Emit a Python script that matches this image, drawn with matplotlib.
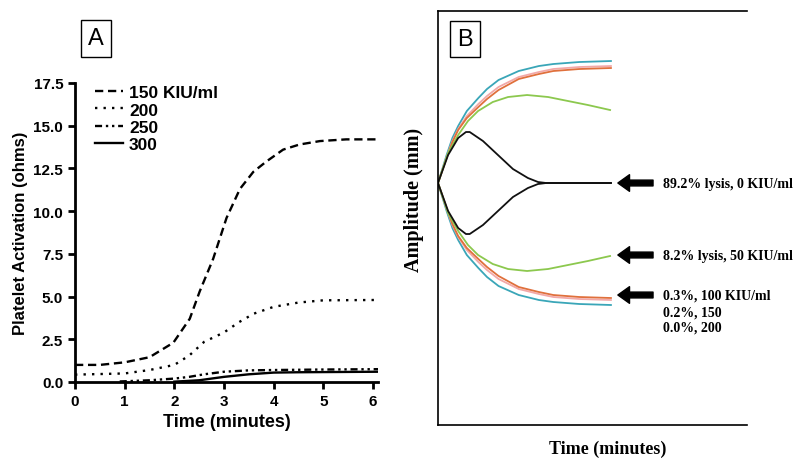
import matplotlib.pyplot as plt
import numpy as np

plt.rcParams['font.family'] = ['Liberation Sans', 'DejaVu Sans']

# ---- Panel A: platelet activation ----
t_150 = [0, 0.5, 1.0, 1.5, 1.98, 2.31, 2.51, 2.78, 3.05, 3.32, 3.59, 3.85, 4.19, 4.52, 4.93, 5.46, 6.1]
v_150 = [1.0, 1.0, 1.15, 1.45, 2.3, 3.7, 5.3, 7.2, 9.6, 11.3, 12.3, 12.9, 13.6, 13.9, 14.1, 14.2, 14.2]
t_200 = [0, 1.0, 1.5, 2.0, 2.3, 2.6, 3.0, 3.3, 3.6, 4.0, 4.5, 5.0, 6.1]
v_200 = [0.43, 0.5, 0.7, 1.0, 1.55, 2.35, 2.9, 3.5, 4.0, 4.4, 4.65, 4.78, 4.8]
t_250 = [0.9, 1.5, 2.0, 2.3, 2.6, 3.0, 3.5, 4.0, 5.0, 6.1]
v_250 = [0.03, 0.1, 0.2, 0.3, 0.45, 0.6, 0.68, 0.7, 0.73, 0.75]
t_300 = [2.0, 2.5, 3.0, 3.5, 4.0, 4.5, 5.0, 6.1]
v_300 = [0.02, 0.1, 0.3, 0.45, 0.55, 0.57, 0.58, 0.6]
labels_a = ['150 KIU/ml', '200', '250', '300']

# ---- Panel B: thromboelastography traces (upper half, mm) ----
t_teg = [0, 3, 5, 7, 10, 14, 17, 21, 28, 35, 40, 49, 60]
amp_cyan = [0, 14, 22.5, 28.5, 36, 42.5, 47, 51.5, 56, 58.5, 59.5, 60.5, 61]
amp_pink = [0, 13, 21, 27, 33.5, 39.5, 43.5, 48, 53, 55.5, 57, 58, 58.5]
amp_orange = [0, 12.5, 20.5, 26.5, 32.5, 38, 42, 46.5, 52, 54.5, 56, 57, 57.5]
t_green = [0, 3.5, 7, 10.4, 13.9, 19, 24.3, 30.9, 38.2, 45.1, 52, 59.7]
amp_green = [0, 15, 24, 31, 36, 40.5, 43, 44, 43, 41, 39, 36.5]
t_black = [0, 3.5, 7, 9.7, 11, 15.6, 20.8, 26, 31.2, 34.7, 37.5, 40, 60]
amp_black = [0, 14, 22.5, 25.5, 25.5, 21, 14, 7, 2.5, 0.5, 0, 0, 0]

arrow_y = [0, -36, -56]
arrow_txt = ['89.2% lysis, 0 KIU/ml', '8.2% lysis, 50 KIU/ml', '0.3%, 100 KIU/ml']
extra_y = [-64.5, -72]
extra_txt = ['0.2%, 150', '0.0%, 200']

fig = plt.figure(figsize=(8, 4.64), dpi=100)

# Panel A
ax1 = fig.add_axes([0.09375, 0.1746, 0.3788, 0.6444])
ax1.plot(t_150, v_150, color='black', lw=1.7, ls=(0, (3.5, 2)), label=labels_a[0])
ax1.plot(t_200, v_200, color='black', lw=1.7, ls=(0, (1, 2.6)), label=labels_a[1])
ax1.plot(t_250, v_250, color='black', lw=1.7, ls=(0, (3, 1.6, 1, 1.6, 1, 1.6)), label=labels_a[2])
ax1.plot(t_300, v_300, color='black', lw=1.7, ls='-', label=labels_a[3])
ax1.set_xlim(0, 6.1)
ax1.set_ylim(0, 17.5)
ax1.set_xticks(range(7))
ax1.set_yticks(np.arange(0, 17.6, 2.5))
ax1.set_yticklabels([f'{v:.1f}' for v in np.arange(0, 17.6, 2.5)])
for s in ['top', 'right']:
    ax1.spines[s].set_visible(False)
for s in ['left', 'bottom']:
    ax1.spines[s].set_linewidth(2)
ax1.tick_params(width=2, length=5, labelsize=11)
for lbl in ax1.get_xticklabels() + ax1.get_yticklabels():
    lbl.set_fontweight('bold')
ax1.set_xlabel('Time (minutes)', fontsize=13, fontweight='bold')
ax1.set_ylabel('Platelet Activation (ohms)', fontsize=12, fontweight='bold')
leg = ax1.legend(loc='upper left', bbox_to_anchor=(0.015, 1.045), frameon=False,
                 prop={'weight': 'bold', 'size': 12.5}, handlelength=1.6,
                 labelspacing=0.12, handletextpad=0.35)

fig.text(0.12, 0.915, 'A', fontsize=17, ha='center', va='center',
         bbox=dict(boxstyle='square,pad=0.3', fc='white', ec='black', lw=1))

# Panel B
ax2 = fig.add_axes([0.5475, 0.0819, 0.38625, 0.8922])
traces = [(t_teg, amp_cyan, '#3aa6b8'), (t_teg, amp_pink, '#f2a8a8'),
          (t_teg, amp_orange, '#e0703c'), (t_green, amp_green, '#8cc84e'),
          (t_black, amp_black, '#111111')]
for tx, amp, c in traces:
    ax2.plot(tx, amp, color=c, lw=1.3)
    ax2.plot(tx, [-a for a in amp], color=c, lw=1.3)
ax2.set_xlim(0, 107.2)
ax2.set_ylim(-121, 86)
ax2.set_xticks([])
ax2.set_yticks([])
ax2.spines['right'].set_visible(False)
for s in ['left', 'top', 'bottom']:
    ax2.spines[s].set_linewidth(1.2)
ax2.set_ylabel('Amplitude (mm)', family='Liberation Serif', fontsize=14.5,
               fontweight='bold', va='center')
ax2.yaxis.set_label_coords(-0.078, 0.546)
ax2.set_xlabel('Time (minutes)', family='Liberation Serif', fontsize=13,
               fontweight='bold')
ax2.xaxis.set_label_coords(0.55, -0.035)

for y, txt in zip(arrow_y, arrow_txt):
    ax2.annotate('', xy=(62.4, y), xytext=(74.6, y),
                 arrowprops=dict(arrowstyle='simple,head_length=0.7,head_width=1.0,tail_width=0.35',
                                 color='black', mutation_scale=12, shrinkA=0, shrinkB=0))
    ax2.text(78.0, y, txt, family='Liberation Serif', fontsize=10,
             fontweight='bold', va='center', ha='left')
for y, txt in zip(extra_y, extra_txt):
    ax2.text(78.0, y, txt, family='Liberation Serif', fontsize=10,
             fontweight='bold', va='center', ha='left')

fig.text(0.581, 0.914, 'B', fontsize=17, ha='center', va='center',
         bbox=dict(boxstyle='square,pad=0.3', fc='white', ec='black', lw=1))

fig.savefig('out.png', dpi=100)
